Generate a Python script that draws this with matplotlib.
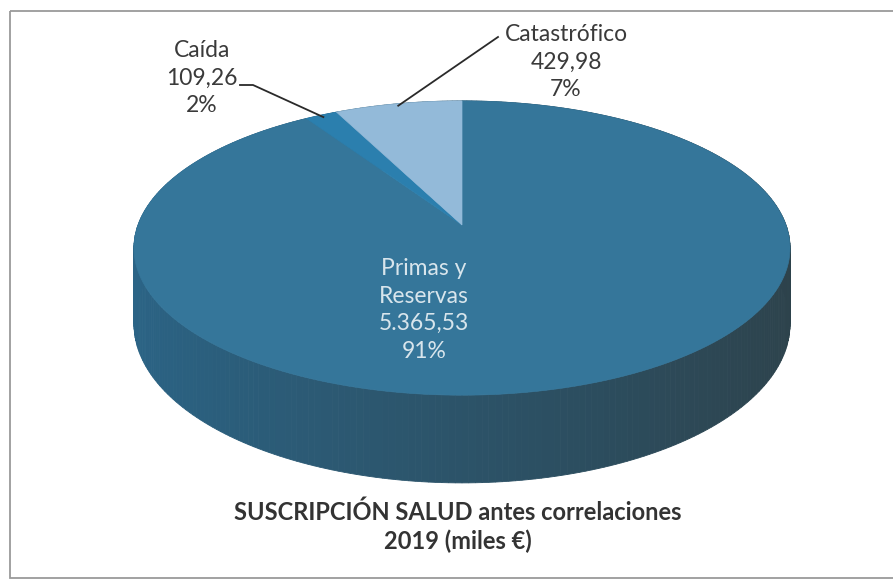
import matplotlib.pyplot as plt
import numpy as np
from matplotlib.patches import Polygon, Rectangle
from matplotlib.colors import to_rgb

plt.rcParams['font.family'] = ['Lato', 'DejaVu Sans']

# data (miles de euros)
labels = ["Primas y\nReservas", "Caída", "Catastrófico"]
values = [5365.53, 109.26, 429.98]
top_colors = ["#35769A", "#2B7FAE", "#93BAD9"]
title = "SUSCRIPCIÓN SALUD antes correlaciones\n2019 (miles €)"

# pie geometry in pixel space (simple perspective)
cx, cy = 462, 225
S, K, P = 324, 0.443, 0.1565
H = 74  # thickness of the pie


def project(theta, drop=0.0):
    # theta measured clockwise from 12 o'clock
    u = np.sin(theta)
    v = np.cos(theta)
    w = 1 + P * v
    return cx + S * u / w, cy - S * K * v / w + drop / w


def es_num(v):
    s = f"{v:,.2f}"
    return s.replace(",", "X").replace(".", ",").replace("X", ".")


fig = plt.figure(figsize=(8.93, 5.81), dpi=100)
ax = fig.add_axes([0, 0, 1, 1])
ax.set_xlim(0, 893)
ax.set_ylim(581, 0)
ax.axis('off')

# frame
ax.add_patch(Rectangle((10, 11), 900, 567, fill=False, ec="#9a9a9a", lw=1.3))

total = sum(values)
fracs = np.array(values) / total
edges = np.concatenate([[0], np.cumsum(fracs)]) * 2 * np.pi

# side wall, shaded from left (lighter) to right (darker)
side_left = np.array(to_rgb("#2B6486"))
side_right = np.array(to_rgb("#2D424B"))
n = 360
ts = np.linspace(0, 2 * np.pi, n + 1)
for i in range(n):
    t0, t1 = ts[i], ts[i + 1]
    xs0, ys0 = project(t0)
    xs1, ys1 = project(t1)
    xb0, yb0 = project(t0, H)
    xb1, yb1 = project(t1, H)
    mix = (np.sin((t0 + t1) / 2) + 1) / 2
    col = side_left * (1 - mix) + side_right * mix
    ax.add_patch(Polygon([(xs0, ys0), (xs1, ys1), (xb1, yb1), (xb0, yb0)],
                         closed=True, fc=col, ec=col, lw=0.6))

# top face wedges
for i in range(len(values)):
    th = np.linspace(edges[i], edges[i + 1], 200)
    px, py = project(th)
    pts = [(cx, cy)] + list(zip(px, py))
    ax.add_patch(Polygon(pts, closed=True, fc=top_colors[i], ec=top_colors[i], lw=0.5))

fs = 16.5
ls = 1.38
txt = "#3a3a3a"

# inside label for the main slice
pct = [f"{round(f * 100):.0f}%" for f in fracs]
ax.text(424, 310, f"{labels[0]}\n{es_num(values[0])}\n{pct[0]}", ha='center', va='center',
        fontsize=fs, color="#d8e5ec", linespacing=ls)

# outside labels with leader lines
ax.text(202, 78, f"{labels[1]}\n{es_num(values[1])}\n{pct[1]}", ha='center', va='center',
        fontsize=fs, color=txt, linespacing=ls)
mid1 = (edges[1] + edges[2]) / 2
lx, ly = project(mid1)
ax.plot([240, 253, lx + 2], [85, 85, ly + 2], color="#2a2a2a", lw=1.3)

ax.text(566, 62, f"{labels[2]}\n{es_num(values[2])}\n{pct[2]}", ha='center', va='center',
        fontsize=fs, color=txt, linespacing=ls)
mid2 = (edges[2] + edges[3]) / 2
lx, ly = project(mid2)
ax.plot([lx, 498], [ly + 2, 37], color="#2a2a2a", lw=1.3)

ax.text(458, 527, title, ha='center', va='center', fontsize=17, fontweight='bold',
        color="#333333", linespacing=1.3)

fig.savefig("out.png", dpi=100)
